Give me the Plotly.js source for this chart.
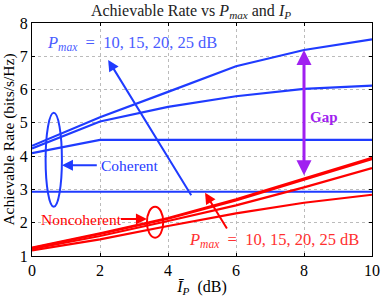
<!DOCTYPE html>
<html><head><meta charset="utf-8">
<script src="https://cdn.plot.ly/plotly-3.0.1.min.js"></script>
<style>body{margin:0;padding:0;background:#fff}#chart{width:382px;height:297px}</style>
</head><body><div id="chart"></div>
<script>
var ip = [0, 2, 4, 6, 8, 10];
var coh25 = [4.31, 5.17, 5.93, 6.70, 7.19, 7.51];
var coh20 = [4.23, 5.04, 5.48, 5.80, 6.02, 6.12];
var coh15 = [4.09, 4.49, 4.49, 4.49, 4.49, 4.49];
var coh10 = [2.93, 2.93, 2.93, 2.93, 2.93, 2.93];
var non25 = [1.25, 1.68, 2.14, 2.70, 3.33, 3.95];
var non20 = [1.24, 1.66, 2.12, 2.67, 3.29, 3.91];
var non15 = [1.21, 1.60, 2.05, 2.52, 3.06, 3.64];
var non10 = [1.17, 1.50, 1.90, 2.28, 2.60, 2.84];
var xTicks = [0, 2, 4, 6, 8, 10];
var yTicks = [1, 2, 3, 4, 5, 6, 7, 8];

var blue = '#1f3bff', red = '#ff0000', purple = '#a020f0';
var F = 'Liberation Serif, Times New Roman, serif';
function tr(y, c) { return {x: ip, y: y, mode: 'lines', line: {color: c, width: 2.2}, hoverinfo: 'skip', showlegend: false}; }
var data = [tr(coh25, blue), tr(coh20, blue), tr(coh15, blue), tr(coh10, blue),
            tr(non25, red), tr(non20, red), tr(non15, red), tr(non10, red)];

function arrow(hx, hy, tx, ty, c, w, extra) {
  var a = {x: hx, y: hy, ax: tx, ay: ty, xref: 'x', yref: 'y', axref: 'x', ayref: 'y', text: '',
    showarrow: true, arrowcolor: c, arrowwidth: w, arrowhead: 2, arrowsize: 1.1};
  for (var k in extra) a[k] = extra[k];
  return a;
}
var pm = '<i>P</i><sub><i>max</i></sub>&nbsp; = &nbsp;10, 15, 20, 25 dB';
var layout = {
  width: 382, height: 297,
  margin: {l: 32, r: 10, t: 23, b: 41},
  paper_bgcolor: '#fff', plot_bgcolor: '#fff',
  font: {family: F, size: 16, color: '#000'},
  title: {text: 'Achievable Rate vs <i>P</i><sub><i>max</i></sub> and <i>I</i><sub><i>P</i></sub>', x: 0.5, xanchor: 'center', y: 0.985, yanchor: 'top', font: {family: F, size: 16, color: '#222'}},
  xaxis: {range: [0, 10], tickvals: xTicks, ticks: 'inside', ticklen: 3, tickcolor: '#000', showline: true, linecolor: '#000', linewidth: 1, mirror: 'ticks',
    showgrid: true, gridcolor: '#bbb', griddash: 'dot', gridwidth: 1, zeroline: false, tickfont: {family: F, size: 16},
    title: {text: '<i>Ī</i><sub><i>P</i></sub>&nbsp; (dB)', font: {family: F, size: 16}, standoff: 2}},
  yaxis: {range: [1, 8], tickvals: yTicks, ticks: 'inside', ticklen: 3, tickcolor: '#000', showline: true, linecolor: '#000', linewidth: 1, mirror: 'ticks',
    showgrid: true, gridcolor: '#bbb', griddash: 'dot', gridwidth: 1, zeroline: false, tickfont: {family: F, size: 16},
    title: {text: 'Achievable Rate (bits/s/Hz)', font: {family: F, size: 15.5}, standoff: 4}},
  shapes: [
    {type: 'circle', xref: 'x', yref: 'y', x0: 0.40, x1: 0.88, y0: 2.48, y1: 5.30, line: {color: blue, width: 2}},
    {type: 'circle', xref: 'x', yref: 'y', x0: 3.38, x1: 3.86, y0: 1.55, y1: 2.48, line: {color: red, width: 2}}
  ],
  annotations: [
    {x: 0.38, y: 7.4, xref: 'x', yref: 'y', xanchor: 'left', yanchor: 'middle', showarrow: false, text: pm, font: {family: F, size: 16.5, color: '#4a5cff'}},
    arrow(2.24, 6.89, 4.71, 2.78, blue, 2),
    {x: 1.97, y: 3.72, xref: 'x', yref: 'y', xanchor: 'left', yanchor: 'middle', showarrow: false, text: 'Coherent', font: {family: F, size: 15.5, color: blue}},
    arrow(0.88, 3.73, 1.95, 3.73, blue, 2),
    {x: 0.22, y: 2.11, xref: 'x', yref: 'y', xanchor: 'left', yanchor: 'middle', showarrow: false, text: 'Noncoherent', font: {family: F, size: 15.5, color: red}},
    arrow(3.38, 2.11, 2.57, 2.11, red, 2),
    {x: 4.56, y: 1.48, xref: 'x', yref: 'y', xanchor: 'left', yanchor: 'middle', showarrow: false, text: pm, font: {family: F, size: 16.5, color: '#ff3030'}},
    arrow(5.09, 2.90, 5.76, 1.78, red, 2),
    arrow(8, 7.19, 8, 3.38, purple, 3, {arrowside: 'end+start', arrowhead: 2, arrowsize: 1}),
    {x: 8.12, y: 5.18, xref: 'x', yref: 'y', xanchor: 'left', yanchor: 'middle', showarrow: false, text: '<b>Gap</b>', font: {family: F, size: 15, color: purple}}
  ]
};
Plotly.newPlot('chart', data, layout, {staticPlot: true, displayModeBar: false});
</script></body></html>
